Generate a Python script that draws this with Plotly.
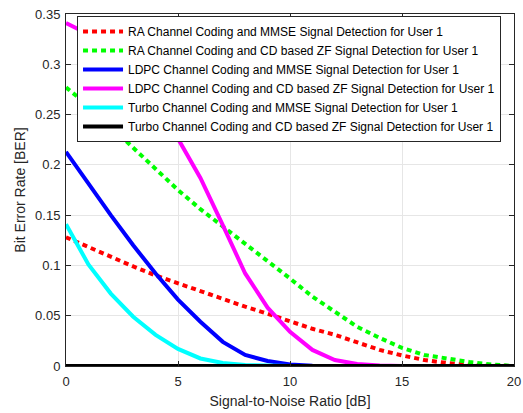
import plotly.graph_objects as go

snr = list(range(0, 21))

ra_mmse = [0.128, 0.118, 0.108, 0.099, 0.090, 0.082, 0.074, 0.066, 0.059, 0.052, 0.0445,
           0.037, 0.031, 0.024, 0.016, 0.0105, 0.006, 0.003, 0.001, 0.0003, 0.0]
ra_cdzf = [0.277, 0.259, 0.238, 0.217, 0.195, 0.175, 0.156, 0.139, 0.121, 0.105, 0.087,
           0.069, 0.054, 0.039, 0.028, 0.018, 0.011, 0.007, 0.004, 0.0015, 0.0]
ldpc_mmse = [0.213, 0.181, 0.150, 0.120, 0.092, 0.066, 0.044, 0.024, 0.011, 0.005, 0.0015,
             0.0003, 0, 0, 0, 0, 0, 0, 0, 0, 0]
ldpc_cdzf = [0.341, 0.330, 0.313, 0.292, 0.265, 0.225, 0.187, 0.140, 0.092, 0.058, 0.034,
             0.016, 0.006, 0.002, 0.0005, 0, 0, 0, 0, 0, 0]
turbo_mmse = [0.141, 0.101, 0.072, 0.049, 0.031, 0.017, 0.0075, 0.003, 0.001, 0.0003, 0,
              0, 0, 0, 0, 0, 0, 0, 0, 0, 0]
turbo_cdzf = [0.0] * 21

names = [
    "RA Channel Coding and MMSE Signal Detection for User 1",
    "RA Channel Coding and CD based ZF Signal Detection for User 1",
    "LDPC Channel Coding and MMSE Signal Detection for User 1",
    "LDPC Channel Coding and CD based ZF Signal Detection for User 1",
    "Turbo Channel Coding and MMSE Signal Detection for User 1",
    "Turbo Channel Coding and CD based ZF Signal Detection for User 1",
]
series = [ra_mmse, ra_cdzf, ldpc_mmse, ldpc_cdzf, turbo_mmse, turbo_cdzf]
colors = ["#ff0000", "#00ff00", "#0000ff", "#ff00ff", "#00ffff", "#000000"]
dashes = ["5px,4px", "5px,4px", "solid", "solid", "solid", "solid"]

fig = go.Figure()
for n, s, c, d in zip(names, series, colors, dashes):
    fig.add_trace(go.Scatter(x=snr, y=s, mode="lines", name=n,
                             line=dict(color=c, width=4, dash=d)))

axis_common = dict(
    showgrid=True, gridcolor="#e6e6e6", gridwidth=1,
    showline=True, linecolor="#262626", linewidth=1, mirror="ticks",
    ticks="inside", ticklen=5, tickcolor="#262626",
    tickfont=dict(family="Liberation Sans, Arial", size=13, color="#262626"),
    zeroline=False, automargin=False, ticklabeloverflow="allow",
)

fig.update_layout(
    width=523, height=413,
    margin=dict(l=66, r=9, t=14, b=47, autoexpand=False),
    paper_bgcolor="white", plot_bgcolor="white",
    font=dict(family="Liberation Sans, Arial", color="#262626"),
    xaxis=dict(range=[0, 20], tickvals=[0, 5, 10, 15, 20], ticklabelstandoff=3,
               title=dict(text="Signal-to-Noise Ratio [dB]", font=dict(size=14), standoff=8),
               **axis_common),
    yaxis=dict(range=[0, 0.35], tickvals=[0, 0.05, 0.1, 0.15, 0.2, 0.25, 0.3, 0.35],
               ticktext=["0", "0.05", "0.1", "0.15", "0.2", "0.25", "0.3", "0.35"],
               ticklabelstandoff=2,
               title=dict(text="Bit Error Rate [BER]", font=dict(size=14), standoff=6),
               **axis_common),
    legend=dict(x=0.0246, y=0.994, xanchor="left", yanchor="top",
                bgcolor="white", bordercolor="#262626", borderwidth=1,
                font=dict(family="Liberation Sans, Arial", size=12, color="#000000"),
                itemwidth=40, tracegroupgap=0),
    showlegend=True,
)

fig.write_html("out.html", config={"displayModeBar": False},
               post_script="document.body.style.margin='0px';")
